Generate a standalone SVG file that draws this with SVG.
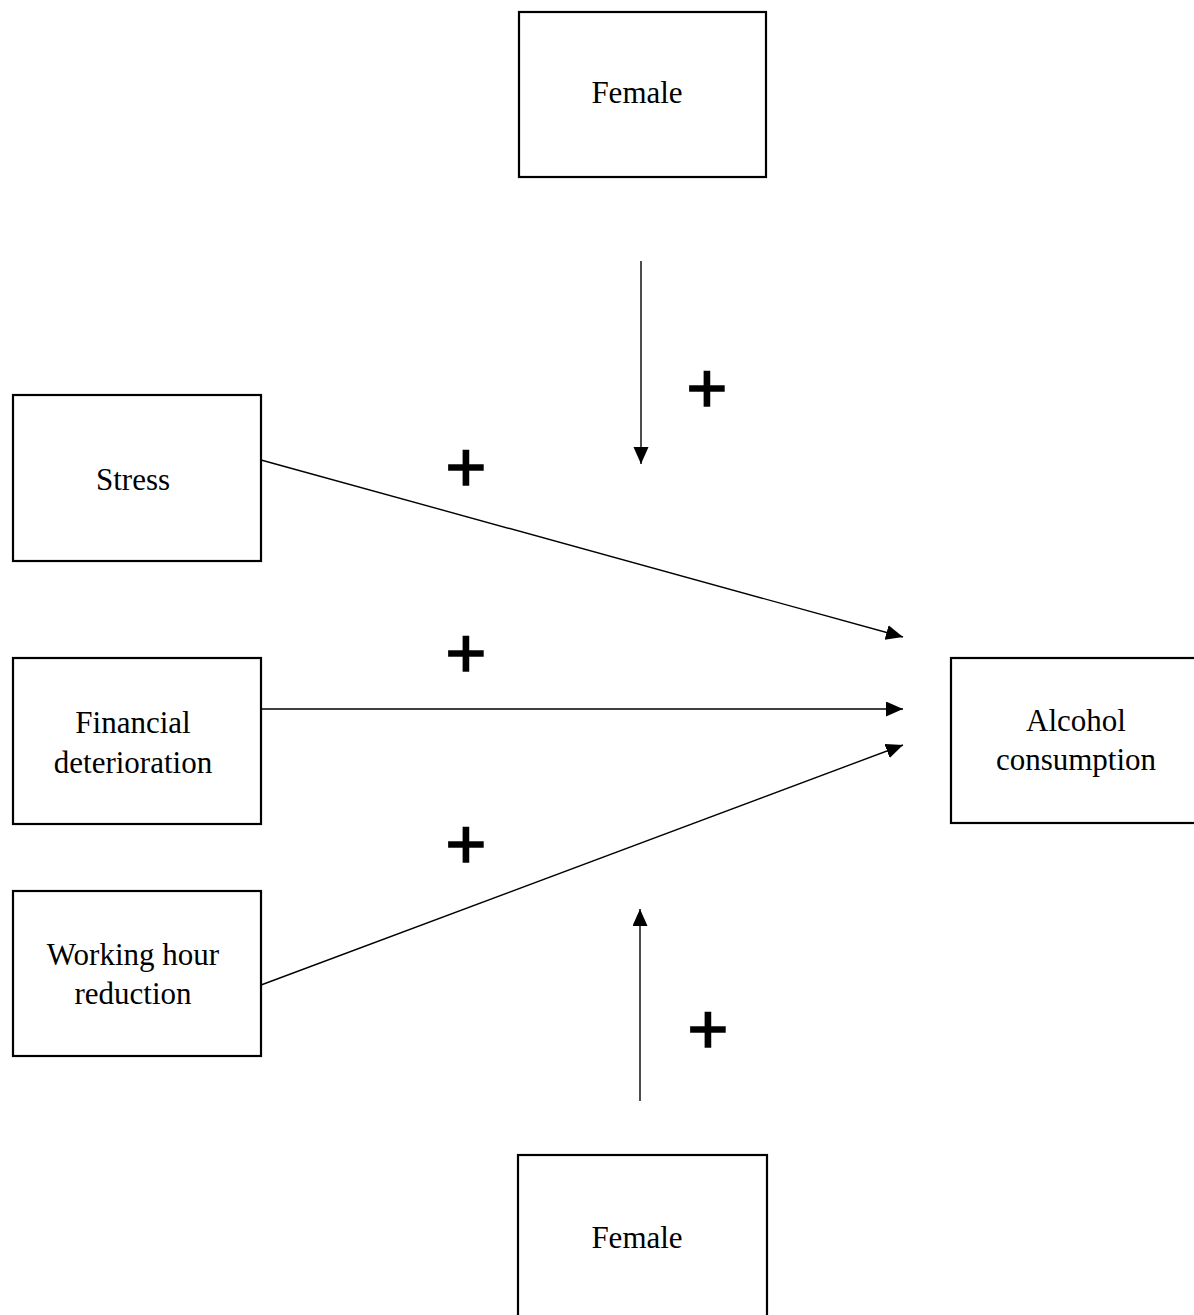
<svg xmlns="http://www.w3.org/2000/svg" width="1194" height="1315" viewBox="0 0 1194 1315">
<style>
.box{fill:#fff;stroke:#000;stroke-width:2.2}
.lbl{font-family:"Liberation Serif","Times New Roman",serif;font-size:31px;fill:#000;text-anchor:middle}
.plus{font-family:"Liberation Sans",Arial,sans-serif;font-size:70px;fill:#000;stroke:#000;stroke-width:1.6;text-anchor:middle}
.edge{stroke:#000;stroke-width:1.4;fill:none}
</style>
<defs>
<marker id="ah" markerUnits="userSpaceOnUse" markerWidth="18" markerHeight="16" refX="17" refY="7.5" orient="auto">
<path d="M0,0 L17,7.5 L0,15 Z" fill="#000"/>
</marker>
</defs>
<rect width="1194" height="1315" fill="#fff"/>
<g id="female-top"><rect class="box" x="519" y="12" width="247" height="165"/><text class="lbl" x="637" y="103">Female</text></g>
<g id="stress"><rect class="box" x="13" y="395" width="248" height="166"/><text class="lbl" x="133" y="490">Stress</text></g>
<g id="financial"><rect class="box" x="13" y="658" width="248" height="166"/><text class="lbl" x="133" y="733">Financial</text><text class="lbl" x="133" y="773">deterioration</text></g>
<g id="working"><rect class="box" x="13" y="891" width="248" height="165"/><text class="lbl" x="133" y="965">Working hour</text><text class="lbl" x="133" y="1004">reduction</text></g>
<g id="alcohol"><rect class="box" x="951" y="658" width="250" height="165"/><text class="lbl" x="1076" y="731">Alcohol</text><text class="lbl" x="1076" y="770">consumption</text></g>
<g id="female-bottom"><rect class="box" x="518" y="1155" width="249" height="170"/><text class="lbl" x="637" y="1248">Female</text></g>
<g id="connectors">
<line class="edge" x1="641" y1="261" x2="641" y2="464" marker-end="url(#ah)"/>
<line class="edge" x1="261" y1="460" x2="903" y2="637" marker-end="url(#ah)"/>
<line class="edge" x1="261" y1="709" x2="903" y2="709" marker-end="url(#ah)"/>
<line class="edge" x1="261" y1="985" x2="903" y2="745" marker-end="url(#ah)"/>
<line class="edge" x1="640" y1="1101" x2="640" y2="909" marker-end="url(#ah)"/>
</g>
<g id="labels">
<text class="plus" x="707" y="412">+</text>
<text class="plus" x="466" y="491">+</text>
<text class="plus" x="466" y="677">+</text>
<text class="plus" x="466" y="868">+</text>
<text class="plus" x="708" y="1053">+</text>
</g>
</svg>
